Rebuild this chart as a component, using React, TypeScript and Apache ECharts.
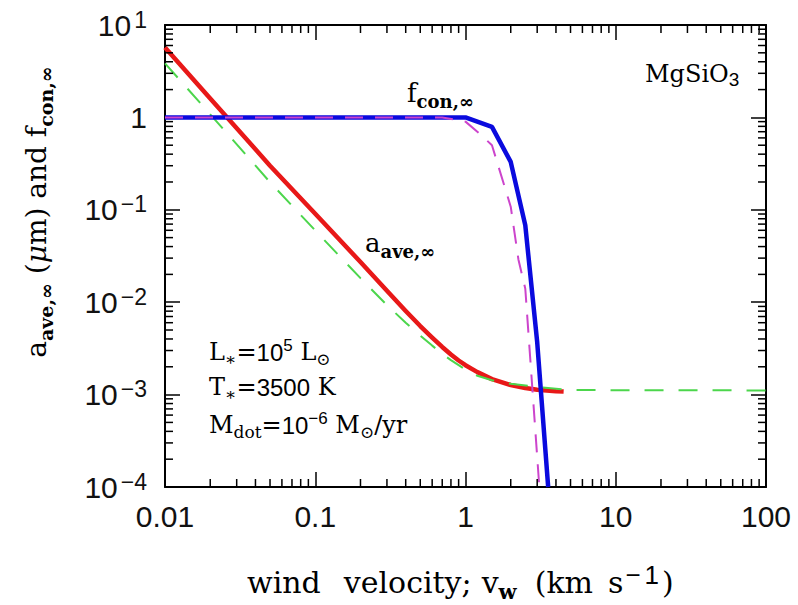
import React, { useEffect, useRef } from 'react';
import * as echarts from 'echarts';

// ---- axis ranges & ticks ----
const xMin = 0.01;
const xMax = 100;
const yMin = 1e-4;
const yMax = 10;
const xTickLabels = ['0.01', '0.1', '1', '10', '100'];
const minorMultipliers = [2, 3, 4, 5, 6, 7, 8, 9];
const xDecades = [0.01, 0.1, 1, 10];
const yDecades = [1e-4, 1e-3, 1e-2, 0.1, 1];

// ---- a_ave,inf (solid red) ----
const aAveVel = [0.01, 0.02, 0.05, 0.1, 0.2, 0.3, 0.4, 0.5, 0.6, 0.7, 0.8, 0.9, 1.0, 1.2, 1.5, 2, 2.5, 3, 4, 4.5];
const aAveVal = [5.7, 1.6, 0.3, 0.0905, 0.0272, 0.0133, 0.00804, 0.00552, 0.00414, 0.00328, 0.00272, 0.00234, 0.00208, 0.00175, 0.00147, 0.00127, 0.00118, 0.00113, 0.00109, 0.00108];

// ---- a_ave,inf (dashed green) ----
const aAveDashVel = [0.01, 0.02, 0.05, 0.1, 0.2, 0.3, 0.4, 0.5, 0.6, 0.7, 0.8, 1, 1.2, 1.5, 2, 3, 5, 100];
const aAveDashVal = [3.85, 1.08, 0.199, 0.0597, 0.0182, 0.0093, 0.006, 0.00435, 0.00339, 0.00277, 0.00236, 0.00186, 0.0016, 0.00143, 0.00131, 0.00121, 0.00112, 0.00111];

// ---- f_con,inf (solid blue) ----
const fConVel = [0.01, 1, 1.5, 2, 2.5, 3, 3.55];
const fConVal = [1, 1, 0.79, 0.33, 0.068, 0.0037, 1e-4];

// ---- f_con,inf (dashed magenta) ----
const fConDashVel = [0.01, 0.7, 1, 1.25, 1.5, 2, 2.25, 2.5, 3.1];
const fConDashVal = [1, 1, 0.9, 0.66, 0.5, 0.108, 0.029, 0.014, 1e-4];

const zip = (xs: number[], ys: number[]) => xs.map((x, i) => [x, ys[i]]);

const SERIF = '"DejaVu Serif", "Liberation Serif", serif';
const SANS = '"Liberation Sans", Arial, sans-serif';

const xMinor: number[] = [];
xDecades.forEach((d) => minorMultipliers.forEach((m) => xMinor.push(d * m)));
const yMinor: number[] = [];
yDecades.forEach((d) => minorMultipliers.forEach((m) => yMinor.push(d * m)));

const tickLine = (x1: number, y1: number, x2: number, y2: number) => ({
  type: 'line',
  shape: { x1, y1, x2, y2 },
  style: { stroke: '#000', lineWidth: 1.5 },
});

export default function App() {
  const ref = useRef<HTMLDivElement>(null);
  useEffect(() => {
    if (!ref.current) return;
    const chart = echarts.init(ref.current, null, { renderer: 'svg' });

    const axisCommon = {
      type: 'log',
      logBase: 10,
      axisLine: { show: true, onZero: false, lineStyle: { color: '#000', width: 2 } },
      axisTick: { show: true, inside: true, length: 15, lineStyle: { color: '#000', width: 1.5 } },
      splitLine: { show: false },
      minorTick: { show: false },
      minorSplitLine: { show: false },
    };

    const mainTok = { fontFamily: SERIF, fontSize: 30, color: '#111', lineHeight: 40, verticalAlign: 'middle' };
    const supTok = { fontFamily: SANS, fontSize: 26, color: '#111', lineHeight: 20, verticalAlign: 'top' };
    const xTitleRich = {
      t0: { ...mainTok },
      t23: { ...mainTok, padding: [0, 23, 0, 0] },
      t10: { ...mainTok, padding: [0, 10, 0, 0] },
      t15: { ...mainTok, padding: [0, 15, 0, 0] },
      tp: { ...mainTok, padding: [0, 0, 0, 3] },
      s18: { fontFamily: SERIF, fontSize: 21, fontWeight: 'bold', color: '#111', lineHeight: 20, verticalAlign: 'bottom', padding: [0, 18, 0, 0] },
      pm: { ...supTok, padding: [0, 4, 0, 2] },
      p: { ...supTok },
    };

    const yTitleRich = {
      m: { fontFamily: SERIF, fontSize: 28, color: '#111', lineHeight: 38, verticalAlign: 'middle' },
      s: { fontFamily: SERIF, fontSize: 19, fontWeight: 'bold', color: '#111', lineHeight: 18, verticalAlign: 'bottom' },
      mu: { fontFamily: SERIF, fontSize: 28, fontStyle: 'italic', color: '#111', lineHeight: 38, verticalAlign: 'middle' },
    };

    const annRich = {
      m: { fontFamily: SERIF, fontSize: 24, color: '#111', lineHeight: 30, verticalAlign: 'middle' },
      d: { fontFamily: SANS, fontSize: 24, color: '#111', lineHeight: 30, verticalAlign: 'middle' },
      s: { fontFamily: SERIF, fontSize: 17, color: '#111', lineHeight: 14, verticalAlign: 'bottom' },
      p: { fontFamily: SANS, fontSize: 17, color: '#111', lineHeight: 14, verticalAlign: 'top' },
    };

    const lblRich = {
      m: { fontFamily: SERIF, fontSize: 26, color: '#111', lineHeight: 34, verticalAlign: 'middle' },
      s: { fontFamily: SERIF, fontSize: 18, fontWeight: 'bold', color: '#111', lineHeight: 16, verticalAlign: 'bottom' },
    };

    const option: any = {
      animation: false,
      backgroundColor: '#fff',
      grid: {
        left: 165,
        right: 32,
        top: 25,
        bottom: 118,
        containLabel: false,
        outerBoundsMode: 'none',
      },
      xAxis: [
        {
          ...axisCommon,
          position: 'bottom',
          min: xMin,
          max: xMax,
          axisLabel: {
            show: true,
            margin: 14,
            fontFamily: SANS,
            fontSize: 30,
            color: '#111',
            formatter: (v: number) => xTickLabels[Math.round(Math.log10(v)) + 2] ?? '',
          },
        },
        {
          ...axisCommon,
          position: 'top',
          min: xMin,
          max: xMax,
          axisLabel: { show: false },
        },
      ],
      yAxis: [
        {
          ...axisCommon,
          position: 'left',
          min: yMin,
          max: yMax,
          axisLabel: {
            show: true,
            margin: 18,
            formatter: (v: number) => {
              const e = Math.round(Math.log10(v));
              if (e === 0) return '{b|1}';
              return `{b|10}{e|${e < 0 ? '−' : ''}${Math.abs(e)}}`;
            },
            rich: {
              b: { fontFamily: SANS, fontSize: 30, color: '#111', lineHeight: 34, verticalAlign: 'middle' },
              e: { fontFamily: SANS, fontSize: 23, color: '#111', lineHeight: 18, verticalAlign: 'top', padding: [0, 0, 0, 3] },
            },
          },
        },
        {
          ...axisCommon,
          position: 'right',
          min: yMin,
          max: yMax,
          axisLabel: { show: false },
        },
      ],
      series: [
        {
          type: 'line',
          name: 'a_ave',
          data: zip(aAveVel, aAveVal),
          showSymbol: false,
          symbol: 'none',
          z: 2,
          lineStyle: { color: '#e81818', width: 4.5, join: 'round' },
        },
        {
          type: 'line',
          name: 'a_ave dashed',
          data: zip(aAveDashVel, aAveDashVal),
          showSymbol: false,
          symbol: 'none',
          z: 3,
          lineStyle: { color: '#4cd64c', width: 2, type: [19, 15] },
        },
        {
          type: 'line',
          name: 'f_con',
          data: zip(fConVel, fConVal),
          showSymbol: false,
          symbol: 'none',
          z: 4,
          lineStyle: { color: '#0a0ade', width: 4.5 },
        },
        {
          type: 'line',
          name: 'f_con dashed',
          data: zip(fConDashVel, fConDashVal),
          showSymbol: false,
          symbol: 'none',
          z: 5,
          lineStyle: { color: '#cc44cc', width: 2, type: [18, 12] },
        },
        {
          type: 'custom',
          name: 'x minor ticks',
          silent: true,
          clip: false,
          z: 6,
          data: xMinor.map((v) => [v, 1]),
          renderItem: (params: any, api: any) => {
            const p = api.coord([api.value(0), 1]);
            const cs = params.coordSys;
            const top = cs.y;
            const bot = cs.y + cs.height;
            return {
              type: 'group',
              children: [tickLine(p[0], bot, p[0], bot - 8), tickLine(p[0], top, p[0], top + 8)],
            };
          },
        },
        {
          type: 'custom',
          name: 'y minor ticks',
          silent: true,
          clip: false,
          z: 6,
          data: yMinor.map((v) => [1, v]),
          renderItem: (params: any, api: any) => {
            const p = api.coord([1, api.value(1)]);
            const cs = params.coordSys;
            const left = cs.x;
            const right = cs.x + cs.width;
            return {
              type: 'group',
              children: [tickLine(left, p[1], left + 8, p[1]), tickLine(right, p[1], right - 8, p[1])],
            };
          },
        },
      ],
      graphic: [
        {
          type: 'text',
          x: 247,
          y: 582,
          silent: true,
          style: {
            text: '{t23|wind}{t10|velocity;}{t0|v}{s18|w}{t15|(km}{t0|s}{pm|−}{p|1}{tp|)}',
            textAlign: 'left',
            textVerticalAlign: 'middle',
            rich: xTitleRich,
          },
        },
        {
          type: 'text',
          x: 36,
          y: 212,
          rotation: Math.PI / 2,
          silent: true,
          style: {
            text: '{m|a}{s|ave,∞}{m| (}{mu|μ}{m|m) and f}{s|con,∞}',
            textAlign: 'center',
            textVerticalAlign: 'middle',
            rich: yTitleRich,
          },
        },
        {
          type: 'text',
          x: 645,
          y: 74,
          silent: true,
          style: {
            text: '{m|MgSiO}{sd|3}',
            textAlign: 'left',
            textVerticalAlign: 'middle',
            rich: {
              m: { fontFamily: SERIF, fontSize: 24, color: '#111', lineHeight: 30, verticalAlign: 'middle' },
              sd: { fontFamily: SANS, fontSize: 19, color: '#111', lineHeight: 16, verticalAlign: 'bottom' },
            },
          },
        },
        {
          type: 'text',
          x: 407,
          y: 93,
          silent: true,
          style: {
            text: '{m|f}{s|con,∞}',
            textAlign: 'left',
            textVerticalAlign: 'middle',
            rich: lblRich,
          },
        },
        {
          type: 'text',
          x: 365,
          y: 243,
          silent: true,
          style: {
            text: '{m|a}{s|ave,∞}',
            textAlign: 'left',
            textVerticalAlign: 'middle',
            rich: lblRich,
          },
        },
        {
          type: 'text',
          x: 209,
          y: 352,
          silent: true,
          style: {
            text: '{m|L}{s|∗}{m|=}{d|10}{p|5}{m| L}{s|⊙}',
            textAlign: 'left',
            textVerticalAlign: 'middle',
            rich: annRich,
          },
        },
        {
          type: 'text',
          x: 209,
          y: 387,
          silent: true,
          style: {
            text: '{m|T}{s|∗}{m|=}{d|3500}{m| K}',
            textAlign: 'left',
            textVerticalAlign: 'middle',
            rich: annRich,
          },
        },
        {
          type: 'text',
          x: 209,
          y: 425,
          silent: true,
          style: {
            text: '{m|M}{s|dot}{m|=}{d|10}{p|−6}{m| M}{s|⊙}{m|/yr}',
            textAlign: 'left',
            textVerticalAlign: 'middle',
            rich: annRich,
          },
        },
      ],
    };

    chart.setOption(option);
    return () => chart.dispose();
  }, []);

  return (
    <div
      ref={ref}
      style={{ position: 'fixed', left: 0, top: 0, width: 798, height: 605, background: '#fff' }}
    />
  );
}
